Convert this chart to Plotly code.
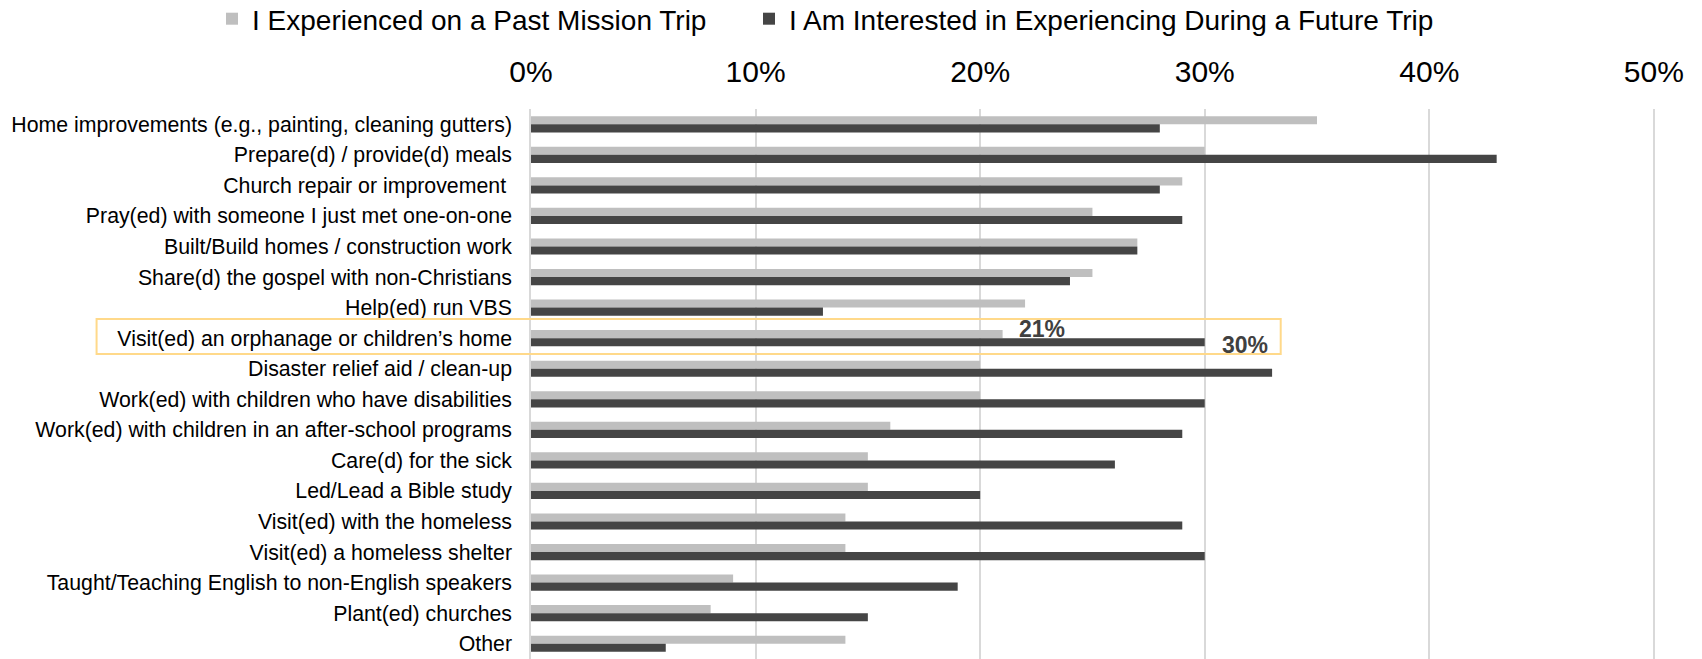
import plotly.graph_objects as go

categories = [
    "Home improvements (e.g., painting, cleaning gutters)",
    "Prepare(d) / provide(d) meals",
    "Church repair or improvement\u00a0",
    "Pray(ed) with someone I just met one-on-one",
    "Built/Build homes / construction work",
    "Share(d) the gospel with non-Christians",
    "Help(ed) run VBS",
    "Visit(ed) an orphanage or children’s home",
    "Disaster relief aid / clean-up",
    "Work(ed) with children who have disabilities",
    "Work(ed) with children in an after-school programs",
    "Care(d) for the sick",
    "Led/Lead a Bible study",
    "Visit(ed) with the homeless",
    "Visit(ed) a homeless shelter",
    "Taught/Teaching English to non-English speakers",
    "Plant(ed) churches",
    "Other",
]
past = [35, 30, 29, 25, 27, 25, 22, 21, 20, 20, 16, 15, 15, 14, 14, 9, 8, 14]
future = [28, 43, 28, 29, 27, 24, 13, 30, 33, 30, 29, 26, 20, 29, 30, 19, 15, 6]
series_names = ["I Experienced on a Past Mission Trip",
                "I Am Interested in Experiencing During a Future Trip"]
highlight = "Visit(ed) an orphanage or children’s home"
tick_vals = [0, 10, 20, 30, 40, 50]
tick_text = ["0%", "10%", "20%", "30%", "40%", "50%"]

FONT = "Arial, Liberation Sans, sans-serif"
GRAY = "#BFBFBF"
DARK = "#454545"

fig = go.Figure()
fig.add_trace(go.Bar(y=categories, x=past, orientation="h", name=series_names[0],
                     marker=dict(color=GRAY, line=dict(width=0)), legend="legend"))
fig.add_trace(go.Bar(y=categories, x=future, orientation="h", name=series_names[1],
                     marker=dict(color=DARK, line=dict(width=0)), legend="legend2"))

hi = categories.index(highlight)
fig.add_annotation(x=past[hi], y=highlight, xref="x", yref="y", text=f"<b>{past[hi]}%</b>",
                   showarrow=False, xanchor="left", xshift=14, yshift=9,
                   font=dict(family=FONT, size=23, color="#404040"))
fig.add_annotation(x=future[hi], y=highlight, xref="x", yref="y", text=f"<b>{future[hi]}%</b>",
                   showarrow=False, xanchor="left", xshift=15, yshift=-7,
                   font=dict(family=FONT, size=23, color="#404040"))

fig.add_shape(type="rect", xref="paper", yref="y", x0=-0.3865, x1=0.667,
              y0=hi - 0.63, y1=hi + 0.52, line=dict(color="#FFD98A", width=2),
              fillcolor="rgba(0,0,0,0)", layer="above")

legend_common = dict(orientation="h", xref="container", yref="container",
                     xanchor="left", y=1 - 19 / 659, yanchor="middle",
                     font=dict(family=FONT, size=28, color="#000000"),
                     bgcolor="rgba(0,0,0,0)")

fig.update_layout(
    width=1702, height=659,
    margin=dict(l=531, r=47, t=109, b=0, pad=0),
    paper_bgcolor="white", plot_bgcolor="white",
    barmode="group", bargap=0.47, bargroupgap=0,
    font=dict(family=FONT, color="#000000"),
    showlegend=True,
    legend=dict(x=212 / 1702, **legend_common),
    legend2=dict(x=749 / 1702, **legend_common),
    xaxis=dict(side="top", range=[0, 50.05], tickvals=tick_vals, ticktext=tick_text,
               showgrid=True, gridcolor="#D9D9D9", gridwidth=1.5, zeroline=False,
               showline=False, ticks="", ticklabelstandoff=20,
               tickfont=dict(family=FONT, size=30, color="#000000"), fixedrange=True),
    yaxis=dict(autorange="reversed", showgrid=False, zeroline=False,
               showline=True, linecolor="#D9D9D9", linewidth=1.5,
               ticks="", ticklabelstandoff=13,
               tickfont=dict(family=FONT, size=21.3, color="#000000"), fixedrange=True),
)

fig.write_html("out.html", config={"displayModeBar": False},
               post_script="document.body.style.margin='0';document.body.style.padding='0';")
